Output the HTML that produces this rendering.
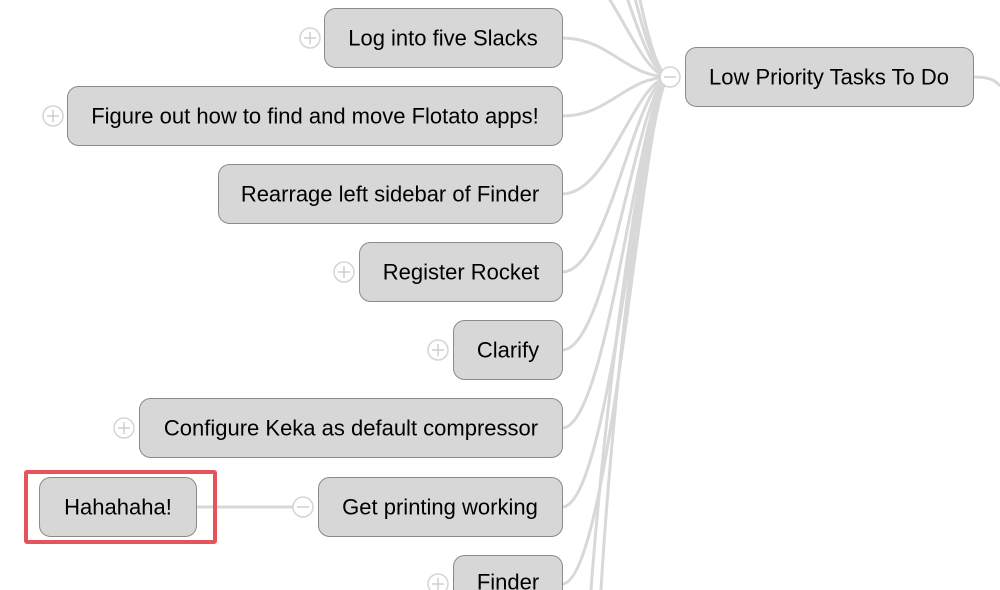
<!DOCTYPE html>
<html><head><meta charset="utf-8"><style>
html,body{margin:0;padding:0;background:#fff;width:1000px;height:590px;overflow:hidden}
svg{display:block;overflow:hidden}
text{font-family:"Liberation Sans",Arial,sans-serif;font-size:22px;fill:#000;text-anchor:middle;dominant-baseline:central}
</style></head><body>
<svg width="1000" height="590" viewBox="0 0 1000 590" xmlns="http://www.w3.org/2000/svg">
<g fill="none" stroke="#d8d8d8" stroke-width="3">
<path d="M562,-274 C610,-274 635,77 670,77"/>
<path d="M562,-196 C610,-196 635,77 670,77"/>
<path d="M562,-118 C610,-118 635,77 670,77"/>
<path d="M562,-40 C610,-40 635,77 670,77"/>
<path d="M562,38 C610,38 625,77 670,77"/>
<path d="M562,116 C610,116 625,77 670,77"/>
<path d="M562,194 C610,194 635,77 670,77"/>
<path d="M562,272 C610,272 635,77 670,77"/>
<path d="M562,350 C610,350 638,77 670,77"/>
<path d="M562,428 C610,428 640,77 670,77"/>
<path d="M562,507 C612,507 642,77 670,77"/>
<path d="M562,584 C612,584 644,77 670,77"/>
<path d="M591,590 C605,400 646,77 670,77"/>
<path d="M601,590 C612,400 648,77 670,77"/>
<path d="M973,77 C990,77 995,80 1000,86"/>
<path d="M196,507 L303,507"/>
</g>
<g fill="#d7d7d7" stroke="#8a8a8a" stroke-width="1">
<rect x="324.5" y="8.5" width="238" height="59" rx="11"/>
<rect x="67.5" y="86.5" width="495" height="59" rx="11"/>
<rect x="218.5" y="164.5" width="344" height="59" rx="11"/>
<rect x="359.5" y="242.5" width="203" height="59" rx="11"/>
<rect x="453.5" y="320.5" width="109" height="59" rx="11"/>
<rect x="139.5" y="398.5" width="423" height="59" rx="11"/>
<rect x="318.5" y="477.5" width="244" height="59" rx="11"/>
<path d="M453.5,590 V566.5 a11,11 0 0 1 11,-11 H551.5 a11,11 0 0 1 11,11 V590"/>
<rect x="39.5" y="477.5" width="157" height="59" rx="11"/>
<rect x="685.5" y="47.5" width="288" height="59" rx="11"/>
</g>
<rect x="26" y="472" width="189" height="70" fill="none" stroke="#e5535b" stroke-width="4" rx="1"/>
<g fill="#fff" stroke="#d4d4d4" stroke-width="1.5">
<circle cx="310" cy="38" r="10"/><circle cx="53" cy="116" r="10"/>
<circle cx="344" cy="272" r="10"/><circle cx="438" cy="350" r="10"/>
<circle cx="124" cy="428" r="10"/><circle cx="303" cy="507" r="10"/>
<circle cx="438" cy="584" r="10"/><circle cx="670" cy="77" r="10"/>
</g>
<g stroke="#cfcfcf" stroke-width="1.5">
<path d="M304,38h12M310,32v12"/><path d="M47,116h12M53,110v12"/>
<path d="M338,272h12M344,266v12"/><path d="M432,350h12M438,344v12"/>
<path d="M118,428h12M124,422v12"/><path d="M297,507h12"/>
<path d="M432,584h12M438,578v12"/><path d="M664,77h12"/>
</g>
<text x="443" y="38">Log into five Slacks</text>
<text x="315" y="116">Figure out how to find and move Flotato apps!</text>
<text x="390" y="194">Rearrage left sidebar of Finder</text>
<text x="461" y="272">Register Rocket</text>
<text x="508" y="350">Clarify</text>
<text x="351" y="428">Configure Keka as default compressor</text>
<text x="440" y="507">Get printing working</text>
<text x="508" y="582">Finder</text>
<text x="118" y="507">Hahahaha!</text>
<text x="829" y="77">Low Priority Tasks To Do</text>
</svg>
</body></html>
